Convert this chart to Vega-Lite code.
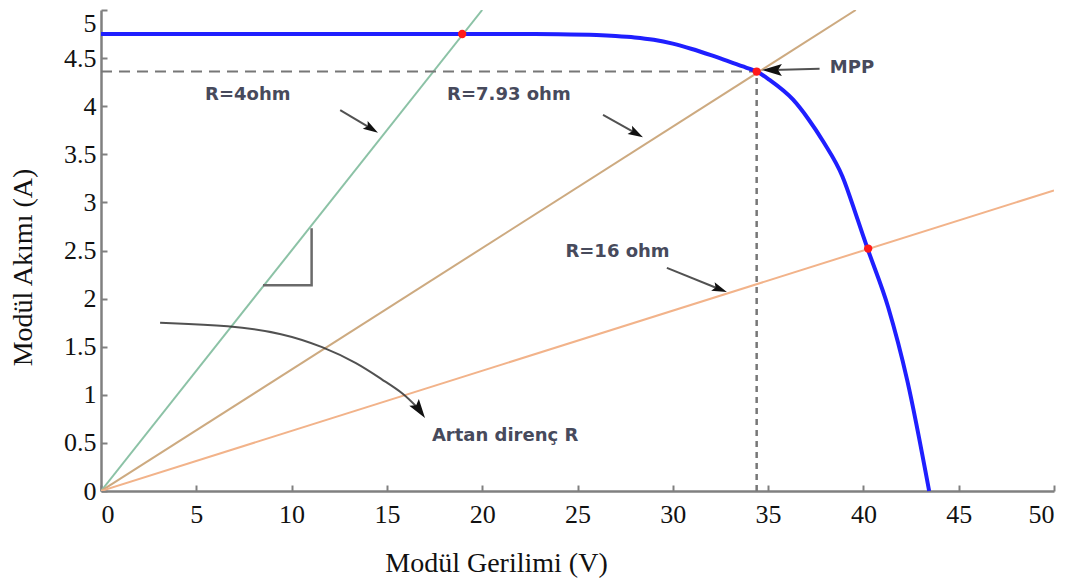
{
  "$schema": "https://vega.github.io/schema/vega-lite/v6.json",
  "width": 953,
  "height": 481,
  "autosize": {"type": "none"},
  "padding": {"left": 101, "top": 10, "right": 25, "bottom": 97},
  "background": "white",
  "config": {
    "view": {"stroke": null},
    "axis": {
      "grid": false,
      "domainColor": "#808080",
      "domainWidth": 2.5,
      "tickColor": "#808080",
      "tickWidth": 2,
      "tickSize": -6,
      "labelFont": "Liberation Serif",
      "labelFontSize": 26,
      "labelColor": "#111111",
      "titleFont": "Liberation Serif",
      "titleFontSize": 28,
      "titleFontWeight": "normal",
      "titleColor": "#111111"
    }
  },
  "datasets": {
    "loads": [
      {"R": "4", "v": 0, "i": 0}, {"R": "4", "v": 20, "i": 5},
      {"R": "7.93", "v": 0, "i": 0}, {"R": "7.93", "v": 39.6, "i": 5},
      {"R": "16", "v": 0, "i": 0}, {"R": "16", "v": 50, "i": 3.125}
    ],
    "iv": [
      {"v": 0, "i": 4.75}, {"v": 5, "i": 4.75}, {"v": 10, "i": 4.75}, {"v": 15, "i": 4.75},
      {"v": 19, "i": 4.75}, {"v": 22, "i": 4.75}, {"v": 24, "i": 4.748}, {"v": 26, "i": 4.74},
      {"v": 27, "i": 4.73}, {"v": 28, "i": 4.715}, {"v": 29, "i": 4.69}, {"v": 30, "i": 4.65},
      {"v": 31, "i": 4.595}, {"v": 32, "i": 4.53}, {"v": 33, "i": 4.46}, {"v": 34, "i": 4.39},
      {"v": 34.4, "i": 4.36}, {"v": 35.1, "i": 4.27}, {"v": 36.3, "i": 4.07}, {"v": 37.1, "i": 3.87},
      {"v": 37.9, "i": 3.63}, {"v": 38.9, "i": 3.27}, {"v": 39.7, "i": 2.82}, {"v": 40.2, "i": 2.53},
      {"v": 41.3, "i": 1.91}, {"v": 42.3, "i": 1.15}, {"v": 43.45, "i": 0}
    ],
    "hdash": [{"v": 0, "i": 4.36}, {"v": 34.4, "i": 4.36}],
    "vdash": [{"v": 34.4, "i": 0}, {"v": 34.4, "i": 4.36}],
    "marks": [{"v": 18.95, "i": 4.75}, {"v": 34.4, "i": 4.36}, {"v": 40.25, "i": 2.52}],
    "triangle": [
      {"o": 1, "v": 8.5, "i": 2.14}, {"o": 2, "v": 11.05, "i": 2.14}, {"o": 3, "v": 11.05, "i": 2.73}
    ],
    "shafts": [
      {"g": "r4", "o": 1, "v": 12.55, "i": 3.96}, {"g": "r4", "o": 2, "v": 14.16, "i": 3.77},
      {"g": "r8", "o": 1, "v": 26.34, "i": 3.91}, {"g": "r8", "o": 2, "v": 28.05, "i": 3.72},
      {"g": "r16", "o": 1, "v": 29.69, "i": 2.32}, {"g": "r16", "o": 2, "v": 32.43, "i": 2.1},
      {"g": "mpp", "o": 1, "v": 37.7, "i": 4.39}, {"g": "mpp", "o": 2, "v": 35.26, "i": 4.376},
      {"g": "curve", "o": 1, "v": 3.1, "i": 1.75}, {"g": "curve", "o": 2, "v": 6.8, "i": 1.72},
      {"g": "curve", "o": 3, "v": 9.55, "i": 1.64}, {"g": "curve", "o": 4, "v": 11.65, "i": 1.5},
      {"g": "curve", "o": 5, "v": 13.45, "i": 1.33}, {"g": "curve", "o": 6, "v": 14.8, "i": 1.15},
      {"g": "curve", "o": 7, "v": 15.85, "i": 1.02}, {"g": "curve", "o": 8, "v": 16.68, "i": 0.85}
    ],
    "heads": [
      {"g": "r4", "v": 14.16, "i": 3.77},
      {"g": "r8", "v": 28.05, "i": 3.72},
      {"g": "r16", "v": 32.43, "i": 2.1},
      {"g": "mpp", "v": 35.26, "i": 4.376},
      {"g": "curve", "v": 16.68, "i": 0.85}
    ],
    "labels": [
      {"t": "R=4ohm", "v": 7.7, "i": 4.12},
      {"t": "R=7.93 ohm", "v": 21.4, "i": 4.12},
      {"t": "R=16 ohm", "v": 27.1, "i": 2.48},
      {"t": "MPP", "v": 39.4, "i": 4.4},
      {"t": "Artan direnç R", "v": 21.2, "i": 0.57}
    ]
  },
  "encoding": {
    "x": {
      "field": "v", "type": "quantitative",
      "scale": {"domain": [0, 50], "nice": false, "zero": false},
      "axis": {
        "title": "Modül Gerilimi (V)",
        "values": [0, 5, 10, 15, 20, 25, 30, 35, 40, 45, 50],
        "labelPadding": 16,
        "titleX": 395, "titleY": 72, "titleBaseline": "middle", "titleAlign": "center"
      }
    },
    "y": {
      "field": "i", "type": "quantitative",
      "scale": {"domain": [0, 5], "nice": false, "zero": false},
      "axis": {
        "title": "Modül Akımı (A)",
        "values": [0, 0.5, 1, 1.5, 2, 2.5, 3, 3.5, 4, 4.5, 5],
        "format": "~g",
        "labelPadding": 11,
        "labelBaseline": {"condition": {"test": "datum.value === 5", "value": "top"}, "value": "middle"},
        "titleX": -78, "titleY": 257, "titleBaseline": "middle", "titleAlign": "center", "titleAngle": -90
      }
    }
  },
  "layer": [
    {
      "data": {"name": "loads"},
      "mark": {"type": "line", "strokeWidth": 2, "clip": true},
      "encoding": {
        "color": {
          "field": "R", "type": "nominal",
          "scale": {"domain": ["4", "7.93", "16"], "range": ["#8cc2a6", "#cdaa80", "#f2b38a"]},
          "legend": null
        },
        "detail": {"field": "R"}
      }
    },
    {
      "data": {"name": "hdash"},
      "mark": {"type": "line", "color": "#777777", "strokeWidth": 2, "strokeDash": [11, 7]},
      "encoding": {}
    },
    {
      "data": {"name": "vdash"},
      "mark": {"type": "line", "color": "#777777", "strokeWidth": 2.5, "strokeDash": [6, 5]},
      "encoding": {}
    },
    {
      "data": {"name": "iv"},
      "mark": {"type": "line", "color": "#1f1fff", "strokeWidth": 4, "interpolate": "monotone"},
      "encoding": {}
    },
    {
      "data": {"name": "marks"},
      "mark": {"type": "point", "shape": "circle", "filled": true, "color": "#ff1a1a", "size": 70, "opacity": 1},
      "encoding": {}
    },
    {
      "data": {"name": "triangle"},
      "mark": {"type": "line", "color": "#6a6a6a", "strokeWidth": 2.5},
      "encoding": {"order": {"field": "o"}}
    },
    {
      "data": {"name": "shafts"},
      "mark": {"type": "line", "color": "#333333", "strokeWidth": 2, "opacity": 0.85, "interpolate": "basis"},
      "encoding": {"detail": {"field": "g"}, "order": {"field": "o"}}
    },
    {
      "data": {"name": "heads"},
      "transform": [{"filter": "datum.g === 'r4'"}],
      "mark": {"type": "point", "shape": "M0,-1L0.55,0.8L0,0.45L-0.55,0.8Z", "filled": true, "color": "#111111", "size": 280, "angle": 122, "opacity": 1},
      "encoding": {}
    },
    {
      "data": {"name": "heads"},
      "transform": [{"filter": "datum.g === 'r8'"}],
      "mark": {"type": "point", "shape": "M0,-1L0.55,0.8L0,0.45L-0.55,0.8Z", "filled": true, "color": "#111111", "size": 280, "angle": 119, "opacity": 1},
      "encoding": {}
    },
    {
      "data": {"name": "heads"},
      "transform": [{"filter": "datum.g === 'r16'"}],
      "mark": {"type": "point", "shape": "M0,-1L0.55,0.8L0,0.45L-0.55,0.8Z", "filled": true, "color": "#111111", "size": 280, "angle": 112, "opacity": 1},
      "encoding": {}
    },
    {
      "data": {"name": "heads"},
      "transform": [{"filter": "datum.g === 'mpp'"}],
      "mark": {"type": "point", "shape": "M0,-1L0.55,0.8L0,0.45L-0.55,0.8Z", "filled": true, "color": "#111111", "size": 490, "angle": 270, "opacity": 1},
      "encoding": {}
    },
    {
      "data": {"name": "heads"},
      "transform": [{"filter": "datum.g === 'curve'"}],
      "mark": {"type": "point", "shape": "M0,-1L0.55,0.8L0,0.45L-0.55,0.8Z", "filled": true, "color": "#111111", "size": 450, "angle": 145, "opacity": 1},
      "encoding": {}
    },
    {
      "data": {"name": "labels"},
      "mark": {"type": "text", "font": "DejaVu Sans", "fontWeight": "bold", "fontSize": 18, "color": "#474a5c", "align": "center", "baseline": "middle"},
      "encoding": {"text": {"field": "t"}}
    }
  ]
}
